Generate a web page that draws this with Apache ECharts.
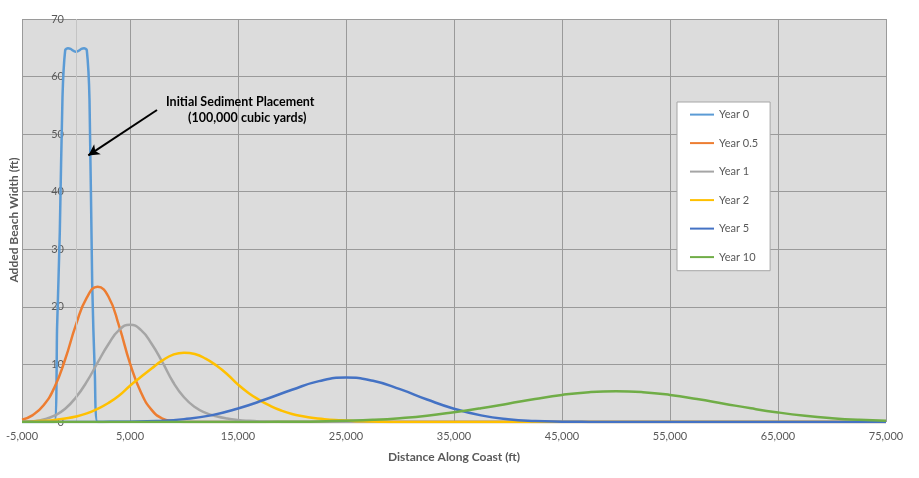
<!DOCTYPE html>
<html>
<head>
<meta charset="UTF-8">
<title>Added Beach Width</title>
<script src="https://cdn.jsdelivr.net/npm/echarts@6/dist/echarts.min.js"></script>
<style>
  html, body { margin: 0; padding: 0; background: #fff; }
  #main { width: 919px; height: 478px; }
</style>
</head>
<body>
<div id="main"></div>
<script type="text/javascript">
// distances (ft) for the initial placement
var dist0 = [-5000, -2000, -1750, -1500, -1250, -1000, -750, -500, -250, 0, 250, 500, 750, 1000, 1250, 1500, 1750, 2000, 75000];
var year0 = [0, 0, 16.5, 33, 56.5, 64.6, 64.9, 64.8, 64.5, 64.3, 64.5, 64.8, 64.9, 64.6, 56, 24, 8, 0, 0];

// distances for the early years (1000 ft steps)
var distA = [-5000, -4000, -3000, -2000, -1000, 0, 1000, 2000, 3000, 4000, 5000, 6000, 7000, 8000, 9000, 10000,
  11000, 12000, 13000, 14000, 15000, 16000, 17000, 18000, 19000, 20000, 21000, 22000, 23000, 24000, 25000,
  26000, 27000, 28000, 29000, 30000, 75000];
var year05 = [0.4, 1.2, 2.9, 6.0, 10.9, 16.9, 21.6, 23.5, 21.8, 16.6, 10.2, 5.2, 2.1, 0.6, 0.15, 0,
  0, 0, 0, 0, 0, 0, 0, 0, 0, 0, 0, 0, 0, 0, 0, 0, 0, 0, 0, 0, 0];
var year1 = [0.05, 0.15, 0.45, 1.1, 2.3, 4.3, 7.0, 10.3, 13.5, 16.0, 16.9, 16.0, 13.6, 10.4, 6.9, 4.3,
  2.6, 1.6, 1.0, 0.6, 0.35, 0.2, 0.1, 0.05, 0, 0, 0, 0, 0, 0, 0, 0, 0, 0, 0, 0, 0];
var year2 = [0.05, 0.1, 0.2, 0.35, 0.6, 0.95, 1.5, 2.3, 3.3, 4.6, 6.3, 7.8, 9.3, 10.7, 11.7, 12.05,
  11.8, 11.0, 9.8, 8.3, 6.5, 5.0, 3.8, 2.8, 2.0, 1.4, 1.0, 0.7, 0.5, 0.35, 0.25, 0.15, 0.1, 0.05, 0, 0, 0];

// distances for the later years (2500 ft steps)
var distB = [-5000, -2500, 0, 2500, 5000, 7500, 10000, 12500, 15000, 17500, 20000, 22500, 25000, 27500,
  30000, 32500, 35000, 37500, 40000, 42500, 45000, 47500, 50000, 52500, 55000, 57500, 60000, 62500,
  65000, 67500, 70000, 72500, 75000];
var year5 = [0, 0, 0.01, 0.02, 0.06, 0.18, 0.5, 1.15, 2.35, 3.9, 5.6, 7.1, 7.72, 7.15, 5.7, 3.9, 2.3,
  1.15, 0.49, 0.18, 0.06, 0.02, 0.01, 0, 0, 0, 0, 0, 0, 0, 0, 0, 0];
var year10 = [0, 0, 0, 0, 0, 0, 0, 0, 0.01, 0.02, 0.05, 0.1, 0.21, 0.38, 0.67, 1.09, 1.7, 2.4, 3.18,
  3.99, 4.7, 5.18, 5.35, 5.18, 4.7, 3.99, 3.18, 2.37, 1.66, 1.09, 0.67, 0.38, 0.21];

var seriesNames = ['Year 0', 'Year 0.5', 'Year 1', 'Year 2', 'Year 5', 'Year 10'];
var seriesColors = ['#5b9bd5', '#ed7d31', '#a5a5a5', '#ffc000', '#4472c4', '#70ad47'];

// annotation arrow, in data units
var arrowFrom = [7500, 54.2];
var arrowTo = [1140, 46.3];

function pairs(xs, ys) {
  return xs.map(function (x, i) { return [x, ys[i]]; });
}

var seriesData = [
  pairs(dist0, year0),
  pairs(distA, year05),
  pairs(distA, year1),
  pairs(distA, year2),
  pairs(distB, year5),
  pairs(distB, year10)
];

var fontFam = 'Lato, "Liberation Sans", sans-serif';
var myChart = echarts.init(document.getElementById('main'));

var series = seriesNames.map(function (name, i) {
  var s = {
    name: name,
    type: 'line',
    data: seriesData[i],
    symbol: 'none',
    smooth: i === 0 ? 0.25 : 0.5,
    color: seriesColors[i],
    lineStyle: { width: 2.5, color: seriesColors[i] },
    z: 2 + i
  };
  if (i === 0) {
    // vertical axis line at x = 0 and the annotation arrow
    s.markLine = {
      silent: true,
      symbol: ['none', 'none'],
      label: { show: false },
      data: [
        { xAxis: 0, lineStyle: { color: '#c4c4c4', width: 1, type: 'solid' } },
        [
          { coord: arrowFrom, lineStyle: { color: '#000', width: 2, type: 'solid' } },
          { coord: arrowTo, symbol: 'arrow', symbolSize: [9, 11] }
        ]
      ]
    };
  }
  return s;
});

var option = {
  animation: false,
  textStyle: { fontFamily: fontFam },
  grid: {
    left: 22, right: 33, top: 19, bottom: 56,
    outerBoundsMode: 'none',
    containLabel: false,
    show: true, backgroundColor: '#dcdcdc', borderWidth: 0
  },
  legend: {
    orient: 'vertical',
    left: 677, top: 102,
    data: seriesNames,
    backgroundColor: '#fff',
    borderColor: '#a6a6a6',
    borderWidth: 1,
    padding: [7, 12, 8, 12],
    itemWidth: 24,
    itemHeight: 14,
    itemGap: 17.3,
    itemStyle: { opacity: 0 },
    textStyle: { fontSize: 11, color: '#595959', fontFamily: fontFam }
  },
  xAxis: {
    type: 'value',
    min: -5000, max: 75000, interval: 10000,
    name: 'Distance Along Coast (ft)',
    nameLocation: 'middle',
    nameGap: 29,
    nameTextStyle: { fontSize: 12, fontWeight: 'bold', color: '#595959' },
    axisLine: { show: false },
    axisTick: { show: false },
    axisLabel: {
      margin: 9, fontSize: 11, color: '#595959',
      formatter: function (v) { return v.toLocaleString('en-US'); }
    },
    splitLine: { show: true, lineStyle: { color: '#9a9a9a', width: 1 } }
  },
  yAxis: {
    type: 'value',
    min: 0, max: 70, interval: 10,
    axisLine: { show: false, onZero: false },
    axisTick: { show: false },
    axisLabel: { margin: -42, align: 'right', fontSize: 11, color: '#595959' },
    splitLine: { show: true, lineStyle: { color: '#9a9a9a', width: 1 } }
  },
  graphic: [
    {
      // y axis title
      type: 'text', x: 14, y: 220, rotation: Math.PI / 2, z: 100,
      style: {
        text: 'Added Beach Width (ft)', font: 'bold 12px ' + fontFam, fill: '#595959',
        align: 'center', verticalAlign: 'middle'
      }
    },
    {
      type: 'text', left: 166, top: 95, z: 100,
      style: { text: 'Initial Sediment Placement', font: 'bold 12.5px ' + fontFam, fill: '#000' }
    },
    {
      type: 'text', left: 188, top: 111, z: 100,
      style: { text: '(100,000 cubic yards)', font: 'bold 12.5px ' + fontFam, fill: '#000' }
    }
  ],
  series: series
};

myChart.setOption(option);
</script>
</body>
</html>
